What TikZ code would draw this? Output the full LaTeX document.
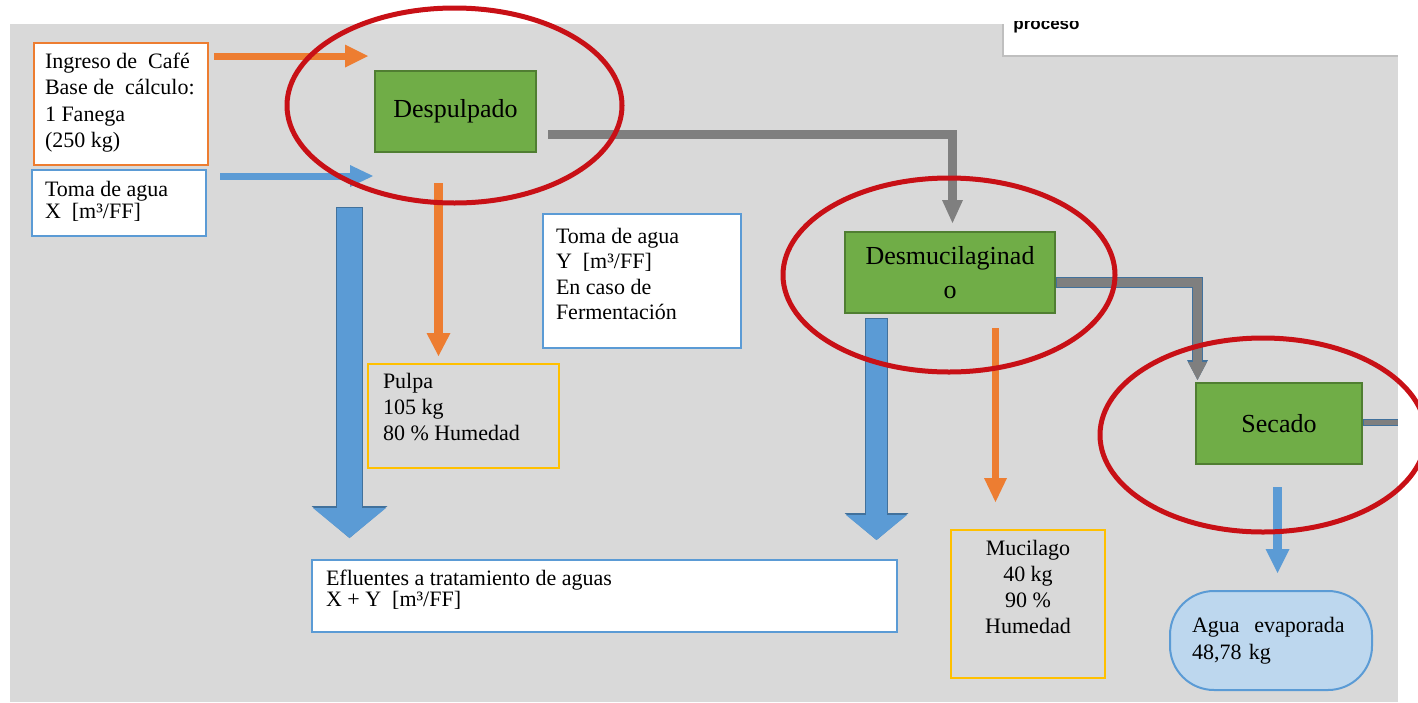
\documentclass[tikz,border=0pt]{standalone}
\usepackage{fontspec}
\setmainfont{Liberation Serif}
\newfontfamily\procfont{Liberation Sans}
\usetikzlibrary{arrows.meta}
\definecolor{orangeC}{HTML}{ED7D31}
\definecolor{blueC}{HTML}{5B9BD5}
\definecolor{blueD}{HTML}{41719C}
\definecolor{grayA}{HTML}{7F7F7F}
\definecolor{greenF}{HTML}{70AD47}
\definecolor{greenD}{HTML}{507E32}
\definecolor{yellowC}{HTML}{FFC000}
\definecolor{redC}{RGB}{200,16,22}
\definecolor{bgGray}{HTML}{D9D9D9}
\definecolor{lightBlue}{HTML}{BDD7EE}
\definecolor{shadowG}{HTML}{BFBFBF}
\begin{document}
\begin{tikzpicture}[x=0.5pt,y=-0.5pt,
  tbox/.style={draw=#1, line width=1pt, fill=white, inner sep=0pt, anchor=north west},
  ybox/.style={draw=yellowC, line width=1pt, inner sep=0pt, anchor=north west},
  gbox/.style={draw=greenD, fill=greenF, line width=0.75pt, minimum height=40.5pt,
    font=\fontsize{13}{17}\selectfont, align=center, inner sep=0pt},
  arr/.style n args={4}{line width=#1, draw=#2, line cap=butt,
    -{Triangle[width=#3,length=#4,line width=0pt]}},
  bar/.style n args={2}{line width=#1, draw=#2, line cap=butt},
  hoop/.style={draw=redC, line width=2.5pt}
]
\useasboundingbox (0,0) rectangle (1418,702);
% background
\fill[bgGray] (10,24) rectangle (1398,702);
% top-right white box
\fill[white] (1003,0) rectangle (1398,56);
\draw[shadowG, line width=0.8pt] (1003,24) -- (1003,56) -- (1398,56);
\begin{scope}
  \clip (1003,21) rectangle (1398,56);
  \node[anchor=base west, inner sep=0pt, font=\procfont\bfseries\fontsize{8.5}{10}\selectfont] (proc) at (1013,29) {proceso};
\end{scope}

% text boxes
\node[tbox=orangeC, inner xsep=5.5pt, inner ysep=5pt, font=\fontsize{11}{13.15}\selectfont] (ing) at (33,42)
  {\parbox[c][51pt][t]{76pt}{Ingreso de~ Café\\Base de~ cálculo:\\1 Fanega\\(250 kg)}};
\node[tbox=blueC, inner xsep=6.5pt, inner ysep=5.5pt, font=\fontsize{11}{9.75}\selectfont] (tomax) at (31,169)
  {\parbox[c][22pt][t]{74pt}{Toma de agua\\X~~[m³/FF]}};
\node[tbox=blueC, inner xsep=6.5pt, inner ysep=7pt, font=\fontsize{11}{12.75}\selectfont] (tomay) at (542,213)
  {\parbox[c][53pt][t]{86pt}{Toma de agua\\Y~~[m³/FF]\\En caso de\\Fermentación}};
\node[ybox, inner xsep=7.5pt, inner ysep=4.5pt, font=\fontsize{11}{13}\selectfont] (pulpa) at (367,363)
  {\parbox[c][43pt][t]{80.5pt}{Pulpa\\105 kg\\80 \% Humedad}};
\node[tbox=blueC, inner xsep=7pt, inner ysep=5pt, font=\fontsize{11}{10.5}\selectfont] (eflu) at (311,559)
  {\parbox[c][26pt][t]{278.5pt}{Efluentes a tratamiento de aguas\\X + Y~~[m³/FF]}};
\node[ybox, inner xsep=3pt, inner ysep=5pt, font=\fontsize{11}{13}\selectfont] (muci) at (950,529)
  {\parbox[c][64pt][t]{71pt}{\centering Mucilago\\40 kg\\90 \%\\Humedad}};
\node[draw=blueC, fill=lightBlue, line width=1pt, rounded corners=22pt, minimum width=101pt,
  minimum height=49.5pt, text width=79pt, inner xsep=11pt, inner ysep=0pt, align=left,
  font=\fontsize{11}{13.5}\selectfont] (agua) at (1271,640.5) {Agua~ evaporada\\48,78 kg};

% process boxes
\node[gbox, minimum width=80.5pt] (desp) at (455.5,111.5) {Despulpado};
\node[gbox, minimum width=105pt] (desm) at (950,272.5) {Desmucilaginad\\o};
\node[gbox, minimum width=83pt] (sec) at (1279,423.5) {Secado};

% connector end points
\coordinate (o1s) at (214,56);   \coordinate (o1e) at (368,56);
\coordinate (b1s) at (220,176);  \coordinate (b1e) at (373,176);
\coordinate (B1s) at (349.5,207); \coordinate (B1e) at (349.5,538);
\coordinate (o2s) at (438.5,183); \coordinate (o2e) at (438.5,356);
\coordinate (g1s) at (548,134.5); \coordinate (g1e) at (952.5,223);
\coordinate (B2s) at (876.5,318); \coordinate (B2e) at (876.5,540);
\coordinate (o3s) at (995.5,328); \coordinate (o3e) at (995.5,502);
\coordinate (g2e) at (1197.5,380);
\coordinate (g3e) at (1398,422.5);
\coordinate (b3s) at (1277.5,487); \coordinate (b3e) at (1277.5,573);

% connectors
\draw[arr={3.5pt}{orangeC}{11.5pt}{11.5pt}] (o1s) -- (o1e);
\draw[arr={3.5pt}{blueC}{11pt}{11.5pt}] (b1s) -- (b1e);
\draw[arr={13.5pt}{blueD}{38pt}{16pt}] (B1s) -- (B1e);
\draw[arr={12.5pt}{blueC}{36.5pt}{15pt}] ([yshift=-0.5pt]B1s) -- (B1e);
\draw[arr={4.5pt}{orangeC}{12pt}{11.5pt}] (o2s) -- (o2e);
\draw[arr={4.5pt}{grayA}{10.5pt}{11.5pt}] (g1s) -| (g1e);
\draw[arr={11.5pt}{blueD}{32pt}{13.5pt}] (B2s) -- (B2e);
\draw[arr={10.5pt}{blueC}{30.5pt}{12.5pt}] ([yshift=-0.5pt]B2s) -- (B2e);
\draw[arr={3.5pt}{orangeC}{11.5pt}{12pt}] (o3s) -- (o3e);
\draw[arr={5.5pt}{blueD}{10.5pt}{10pt}] ([yshift=-5pt]desm.east) -| (g2e);
\draw[arr={4.5pt}{grayA}{9.5pt}{9pt}] ([yshift=-5pt,xshift=0.5pt]desm.east) -| (g2e);
\draw[bar={3.5pt}{blueD}] (sec.east |- g3e) -- (g3e);
\draw[bar={2.5pt}{grayA}] ([xshift=0.5pt]sec.east |- g3e) -- (g3e);
\draw[arr={4.5pt}{blueC}{12pt}{12pt}] (b3s) -- (b3e);

% highlight ellipses
\draw[hoop] (454.5,105.5) ellipse [x radius=167.5, y radius=97.5];
\draw[hoop] (949,275) ellipse [x radius=166, y radius=97];
\draw[hoop] (1263,435) ellipse [x radius=163, y radius=97];
\end{tikzpicture}
\end{document}
